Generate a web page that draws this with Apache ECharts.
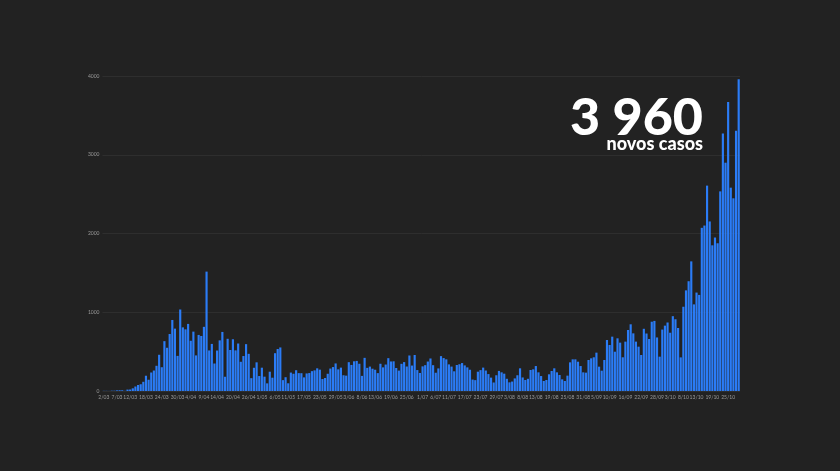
<!DOCTYPE html>
<html>
<head>
<meta charset="utf-8">
<script src="https://cdn.jsdelivr.net/npm/echarts@6/dist/echarts.min.js"></script>
<style>
html,body{margin:0;padding:0;background:#222222;}
#chart{width:840px;height:471px;}
</style>
</head>
<body>
<div id="chart"></div>
<script>
// Month spec: [month, first day, last day]
const monthSpec = [['03',2,31],['04',1,30],['05',1,31],['06',1,30],['07',1,31],['08',1,31],['09',1,30],['10',1,29]];

const casesMar = [2,2,1,4,4,8,9,9,2,18,19,34,57,76,86,117,194,143,235,260,320,460,302,633,549,724,902,792,446,1035];
const casesApr = [808,783,852,638,754,452,712,699,815,1516,515,598,349,514,643,750,181,663,521,657,516,603,371,444,595,472,163,295,364,190];
const casesMay = [296,182,97,245,169,480,533,553,138,175,98,234,219,264,227,226,173,223,228,252,262,288,271,152,165,219,285,304,350,275,297];
const casesJun = [200,195,366,331,377,382,346,192,421,294,310,283,270,227,346,300,336,417,375,377,292,259,345,367,311,451,323,457,266,229];
const casesJul = [313,328,374,413,328,232,287,443,418,402,338,310,250,330,340,355,325,300,270,145,138,245,265,297,260,215,170,108,200,255,237];
const casesAug = [220,155,110,120,160,200,288,172,140,155,267,275,317,237,190,127,140,212,254,288,237,203,148,127,195,364,402,402,372,317,237];
const casesSep = [233,394,415,428,487,309,258,394,648,584,690,499,669,614,428,627,775,847,732,627,563,457,790,730,660,880,890,680,436,780];
const casesOct = [830,870,740,950,911,800,427,1070,1278,1394,1646,1100,1250,1220,2072,2101,2608,2153,1850,1949,1876,2535,3270,2899,3669,2582,2447,3305,3960];

const tickLabels = ['2/03','7/03','12/03','18/03','24/03','30/03','4/04','9/04','14/04','20/04','26/04','1/05','6/05','11/05','17/05','23/05','29/05','3/06','8/06','13/06','19/06','25/06','1/07','6/07','11/07','17/07','23/07','29/07','3/08','8/08','13/08','19/08','25/08','31/08','5/09','10/09','16/09','22/09','28/09','3/10','8/10','13/10','19/10','25/10'];

const headline = '3 960';
const subline = 'novos casos';

const categories = [];
monthSpec.forEach(function(s){ for (let d = s[1]; d <= s[2]; d++) categories.push(d + '/' + s[0]); });
const values = [].concat(casesMar, casesApr, casesMay, casesJun, casesJul, casesAug, casesSep, casesOct);

const chart = echarts.init(document.getElementById('chart'), null, {renderer:'canvas'});
chart.setOption({
  backgroundColor: '#222222',
  animation: false,
  grid: {left: 102.5, right: 100, top: 76, bottom: 80, containLabel: false},
  xAxis: {
    type: 'category',
    data: categories,
    axisLine: {show: false},
    axisTick: {show: false},
    axisLabel: {
      interval: function(idx, val){ return tickLabels.indexOf(val) >= 0; },
      color: '#9a9a9a',
      fontSize: 5,
      fontFamily: 'Lato',
      margin: 4,
      hideOverlap: false
    },
    splitLine: {show: false}
  },
  yAxis: {
    type: 'value',
    min: 0, max: 4000, interval: 1000,
    axisLine: {show: false},
    axisTick: {show: false},
    axisLabel: {color: '#9a9a9a', fontSize: 5, fontFamily: 'Lato', margin: 3, formatter: function(v){ return String(v); }},
    splitLine: {lineStyle: {color: '#2e2e2e', width: 1}}
  },
  series: [{
    type: 'bar',
    data: values,
    barCategoryGap: '18%',
    itemStyle: {color: '#2b7cf6'}
  }],
  graphic: [
    {type: 'text', x: 703, y: 118, style: {text: headline, fill: '#ffffff', font: '900 52px Lato', textAlign: 'right', textVerticalAlign: 'middle'}},
    {type: 'text', x: 703, y: 144, style: {text: subline, fill: '#ffffff', font: '900 18px Lato', textAlign: 'right', textVerticalAlign: 'middle'}}
  ]
});
</script>
</body>
</html>
